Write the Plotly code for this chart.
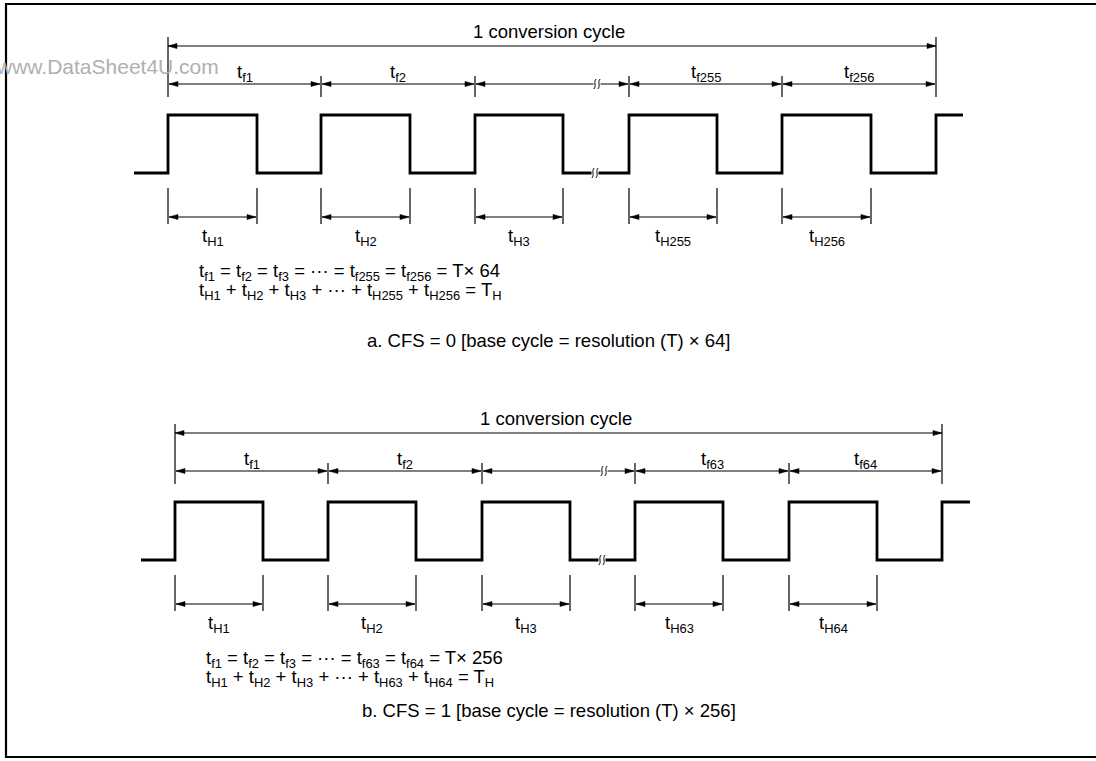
import plotly.graph_objects as go

W, H = 1096, 761
FONT = "Liberation Sans, Arial, sans-serif"

# --- diagram a (CFS = 0) ---
rise_a = [168, 321, 475, 629, 782, 936]
fall_a = [257, 410, 563, 717, 871]
tf_a = ["f1", "f2", "", "f255", "f256"]
th_a = ["H1", "H2", "H3", "H255", "H256"]
eq_a = ["t<sub>f1</sub> = t<sub>f2</sub> = t<sub>f3</sub> = ··· = t<sub>f255</sub> = t<sub>f256</sub> = T× 64",
        "t<sub>H1</sub> + t<sub>H2</sub> + t<sub>H3</sub> + ··· + t<sub>H255</sub> + t<sub>H256</sub> = T<sub>H</sub>"]
cap_a = "a. CFS = 0 [base cycle = resolution (T) × 64]"

# --- diagram b (CFS = 1) ---
rise_b = [175, 328, 482, 635, 789, 942]
fall_b = [263, 416, 570, 723, 877]
tf_b = ["f1", "f2", "", "f63", "f64"]
th_b = ["H1", "H2", "H3", "H63", "H64"]
eq_b = ["t<sub>f1</sub> = t<sub>f2</sub> = t<sub>f3</sub> = ··· = t<sub>f63</sub> = t<sub>f64</sub> = T× 256",
        "t<sub>H1</sub> + t<sub>H2</sub> + t<sub>H3</sub> + ··· + t<sub>H63</sub> + t<sub>H64</sub> = T<sub>H</sub>"]
cap_b = "b. CFS = 1 [base cycle = resolution (T) × 256]"

shapes = []
annots = []
FS = 18.5


def line(x0, y0, x1, y1, w=1.2):
    shapes.append(dict(type="line", x0=x0, y0=y0, x1=x1, y1=y1,
                       line=dict(color="black", width=w)))


def head(x, y, d):
    # filled triangle, tip at (x, y), pointing in direction d (+1 right, -1 left)
    L, hw = 9, 2.6
    shapes.append(dict(type="path", path=f"M{x},{y} L{x - d*L},{y - hw} L{x - d*L},{y + hw} Z",
                       fillcolor="black", line=dict(color="black", width=0.5)))


def darrow(x0, x1, y):
    line(x0, y, x1, y)
    head(x0, y, -1)
    head(x1, y, 1)


def squiggle(x, y):
    shapes.append(dict(type="rect", x0=x - 3.5, x1=x + 3.5, y0=y - 3, y1=y + 3,
                       fillcolor="white", line=dict(width=0)))
    for dx in (-2, 2):
        cx = x + dx
        shapes.append(dict(type="path",
                           path=f"M{cx + 1.2},{y - 5} C{cx - 2},{y - 2} {cx + 2},{y + 2} {cx - 1.2},{y + 5}",
                           line=dict(color="black", width=1)))


def text(x, y, s, size=FS, xanchor="center"):
    annots.append(dict(x=x, y=y, text=s, showarrow=False, xanchor=xanchor, yanchor="middle",
                       font=dict(size=size, color="black", family=FONT)))


fig = go.Figure()


def diagram(rise, fall, tf, th, eq, cap, y0, x_lo, x_hi, brk, eq_y, cap_y):
    hi, lo = y0 + 115, y0 + 173
    # waveform
    xs, ys = [x_lo], [lo]
    for i, r in enumerate(rise):
        xs += [r, r]
        ys += [lo, hi]
        if i < len(fall):
            xs += [fall[i], fall[i]]
            ys += [hi, lo]
    xs.append(x_hi)
    ys.append(hi)
    fig.add_trace(go.Scatter(x=xs, y=ys, mode="lines", line=dict(color="black", width=2.8),
                             hoverinfo="skip", showlegend=False))
    squiggle(brk, lo)

    # 1 conversion cycle
    line(rise[0], y0 + 37, rise[0], y0 + 97)
    line(rise[-1], y0 + 37, rise[-1], y0 + 97)
    darrow(rise[0], rise[-1], y0 + 46)
    text((rise[0] + rise[-1]) / 2 - 3, y0 + 31, "1 conversion cycle")

    # periods
    for r in rise[1:-1]:
        line(r, y0 + 76, r, y0 + 97)
    for i in range(len(rise) - 1):
        darrow(rise[i] + 1, rise[i + 1] - 1, y0 + 84)
        if tf[i]:
            text((rise[i] + rise[i + 1]) / 2, y0 + 73, f"t<sub>{tf[i]}</sub>")
    squiggle(brk + 2, y0 + 84)

    # high widths
    for i in range(len(fall)):
        line(rise[i], y0 + 188, rise[i], y0 + 224)
        line(fall[i], y0 + 188, fall[i], y0 + 224)
        darrow(rise[i] + 1, fall[i] - 1, y0 + 217)
        text((rise[i] + fall[i]) / 2, y0 + 237, f"t<sub>{th[i]}</sub>")

    text(rise[0] + 29, eq_y, eq[0], FS, "left")
    text(rise[0] + 29, eq_y + 19, eq[1], FS, "left")
    text(549, cap_y, cap)


diagram(rise_a, fall_a, tf_a, th_a, eq_a, cap_a, 0, 134, 963, 595, 272, 340)
diagram(rise_b, fall_b, tf_b, th_b, eq_b, cap_b, 387, 141, 970, 602, 659, 710)

# frame
shapes.append(dict(type="rect", x0=6, x1=1110, y0=4, y1=757, line=dict(color="black", width=2.2)))
annots.append(dict(x=221, y=66, text="www.DataSheet4U.com", showarrow=False, xanchor="right",
                   yanchor="middle", font=dict(size=21, color="#b0b0b0", family=FONT)))

fig.update_layout(
    width=W, height=H, margin=dict(l=0, r=0, t=0, b=0),
    plot_bgcolor="white", paper_bgcolor="white",
    xaxis=dict(range=[0, W], visible=False, fixedrange=True),
    yaxis=dict(range=[H, 0], visible=False, fixedrange=True),
    shapes=shapes, annotations=annots, showlegend=False,
)
fig.write_html("out.html", config={"displayModeBar": False},
               post_script="document.body.style.margin='0';document.body.style.overflow='hidden';")
